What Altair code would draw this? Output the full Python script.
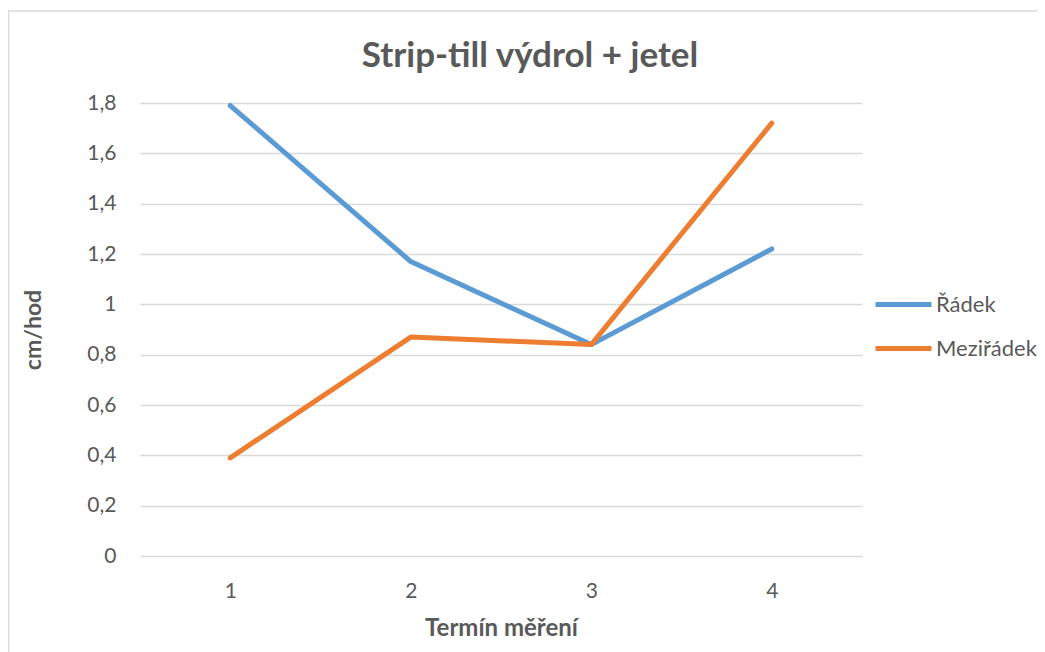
import altair as alt
import pandas as pd

terms = ["1", "2", "3", "4"]
radek = [1.79, 1.17, 0.84, 1.22]
meziradek = [0.39, 0.87, 0.84, 1.72]
series_names = ["Řádek", "Meziřádek"]
series_colors = ["#5B9BD5", "#ED7D31"]
y_ticks = [0, 0.2, 0.4, 0.6, 0.8, 1.0, 1.2, 1.4, 1.6, 1.8]

rows = []
for name, vals in zip(series_names, [radek, meziradek]):
    for t, v in zip(terms, vals):
        rows.append({"Termín": t, "Hodnota": v, "Řada": name})
df = pd.DataFrame(rows)

FONT = "Lato"
GRAY = "#595959"

frame = alt.Chart(pd.DataFrame({"a": [0]})).mark_rect(
    fill=None, stroke="#d9d9d9", strokeWidth=1.5, clip=False
).encode(
    x=alt.value(-131.5), x2=alt.value(930), y=alt.value(-92), y2=alt.value(580)
)

lines = alt.Chart(df).mark_line(strokeWidth=5, strokeCap="round", strokeJoin="round").encode(
    x=alt.X("Termín:O", sort=terms, scale=alt.Scale(padding=0.5),
            axis=alt.Axis(title="Termín měření", labelAngle=0, domain=False, ticks=False,
                          labelPadding=24, titleY=72, titleBaseline="middle",
                          titleFontSize=24)),
    y=alt.Y("Hodnota:Q", scale=alt.Scale(domain=[0, 1.8]),
            axis=alt.Axis(title="cm/hod", values=y_ticks, format=".2~f",
                          labelExpr="replace(datum.label, '.', ',')",
                          domain=False, ticks=False, labelPadding=24,
                          gridColor="#d9d9d9", gridWidth=1.3,
                          titleX=-107, titleY=226.5, titleAngle=-90,
                          titleBaseline="middle", titleAlign="center",
                          titleFontSize=23)),
    color=alt.Color("Řada:N", sort=series_names,
                    scale=alt.Scale(domain=series_names, range=series_colors),
                    legend=alt.Legend(title=None, orient="none", legendX=733, legendY=171,
                                      symbolType="stroke", symbolSize=3136,
                                      symbolStrokeWidth=5, rowPadding=2,
                                      labelFontSize=22, labelColor=GRAY, labelFont=FONT,
                                      labelOffset=2)),
)

chart = alt.layer(frame, lines).properties(
    width=722, height=453,
    title=alt.Title("Strip-till výdrol + jetel", fontSize=35, font=FONT, fontWeight="bold",
                    color=GRAY, frame="group", baseline="alphabetic", offset=0, dy=92, dx=29),
    autosize=alt.AutoSizeParams(type="none"),
    padding={"left": 132, "top": 95, "right": 175, "bottom": 100},
).configure_axis(
    labelFont=FONT, labelFontSize=21, labelColor=GRAY,
    titleFont=FONT, titleColor=GRAY, titleFontWeight="bold",
).configure_view(stroke=None)

chart.save("out.html", embed_options={"renderer": "svg", "actions": False})
